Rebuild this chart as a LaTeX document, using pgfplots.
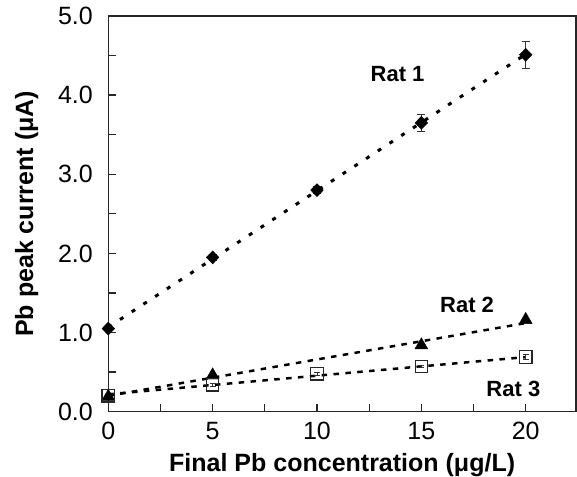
\documentclass[border=0pt]{standalone}
\usepackage{fontspec}
\setmainfont{Liberation Sans}
\usepackage{pgfplots}
\pgfplotsset{compat=1.18}
\begin{document}
\begin{tikzpicture}
\useasboundingbox (-108.3pt,-64.3pt) rectangle (468.7pt,411.7pt);
\begin{axis}[
  scale only axis, width=467.7pt, height=395.7pt,
  at={(0,0)}, anchor=south west,
  xmin=0, xmax=22.41, ymin=0, ymax=5,
  xtick={0,5,10,15,20}, minor xtick={2.5,7.5,12.5,17.5},
  ytick={0,1,2,3,4,5}, minor ytick={0.5,1.5,2.5,3.5,4.5},
  tick pos=left, tick align=inside,
  major tick length=8pt, minor tick length=8pt,
  tick style={black!85, line width=1.3pt},
  axis line style={black!85, line width=1.5pt},
  ticklabel style={font=\fontsize{25}{25}\selectfont},
  /pgf/number format/assume math mode=true,
  y tick label style={/pgf/number format/fixed, /pgf/number format/fixed zerofill, /pgf/number format/precision=1, xshift=-12pt},
  x tick label style={yshift=-7pt},
  label style={font=\fontsize{25}{25}\selectfont\bfseries},
  xlabel={Final Pb concentration (μg/L)},
  ylabel={Pb peak current (μA)},
  xlabel style={at={(axis description cs:0.5,-0.1516)}, anchor=base},
  ylabel style={at={(axis description cs:-0.161,0.5)}, anchor=base},
  clip=false,
]
% trend lines
\addplot[black, line width=3pt, dash pattern=on 4pt off 10pt] coordinates {(0,1.068) (20,4.516)};
\addplot[black, line width=2.5pt, dash pattern=on 5.5pt off 6.4pt] coordinates {(0,0.20) (20,1.12)};
\addplot[black, line width=2.5pt, dash pattern=on 5.5pt off 6.4pt] coordinates {(0,0.22) (20,0.69)};
% Rat 1
\addplot[only marks, mark=diamond*, mark size=6.5pt, mark options={fill=black, draw=black, xscale=1.3},
  error bars/.cd, y dir=both, y explicit,
  error bar style={line width=1pt, black!80},
  error mark options={rotate=90, mark size=4pt, line width=1pt, black!80}]
  coordinates {(0,1.05) +- (0,0.02) (5,1.95) +- (0,0.04) (10,2.80) +- (0,0.04) (15,3.65) +- (0,0.105) (20,4.51) +- (0,0.17)};
% Rat 2
\addplot[only marks, mark=triangle*, mark size=7.5pt, mark options={fill=black, draw=black}]
  coordinates {(0,0.19) (5,0.46) (15,0.84) (20,1.16)};
% Rat 3
\addplot[only marks, mark=square, mark size=6.2pt, mark options={fill=white, draw=black!85, line width=1.2pt},
  error bars/.cd, y dir=both, y explicit,
  error bar style={line width=1pt, black!80},
  error mark options={rotate=90, mark size=3pt, line width=1pt, black!80}]
  coordinates {(0,0.20) +- (0,0.02) (5,0.34) +- (0,0.02) (10,0.48) +- (0,0.02) (15,0.57) +- (0,0.01) (20,0.69) +- (0,0.03)};
\node[font=\fontsize{22}{22}\selectfont\bfseries] at (axis cs:13.86,4.27) {Rat 1};
\node[font=\fontsize{22}{22}\selectfont\bfseries] at (axis cs:17.19,1.345) {Rat 2};
\node[font=\fontsize{22}{22}\selectfont\bfseries] at (axis cs:19.41,0.29) {Rat 3};
\end{axis}
\end{tikzpicture}
\end{document}
